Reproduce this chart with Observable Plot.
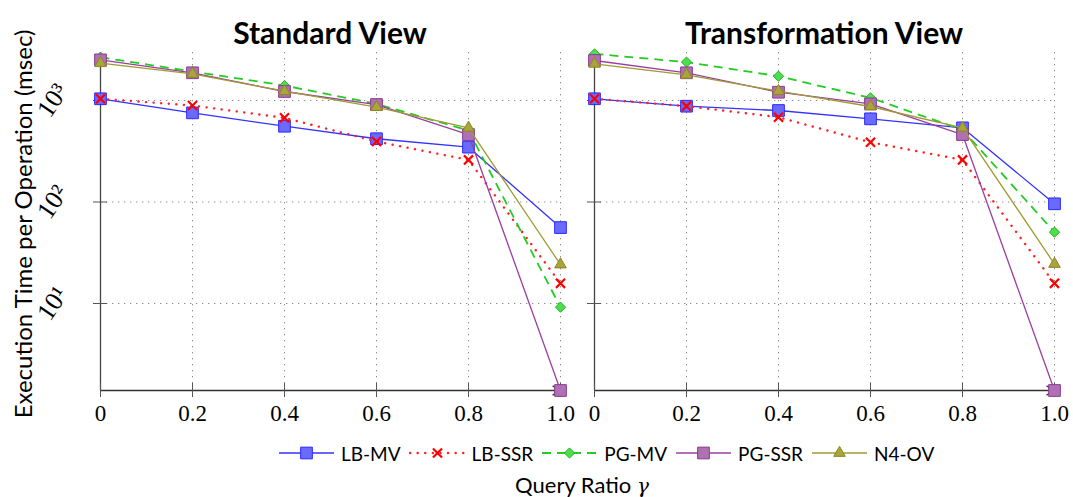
<!DOCTYPE html>
<html>
<head>
<meta charset="utf-8">
<script src="https://cdn.jsdelivr.net/npm/d3@7"></script>
<script src="https://cdn.jsdelivr.net/npm/@observablehq/plot@0.6"></script>
<style>
  body { margin: 0; background: #fff; }
  #wrap { position: relative; width: 1073px; height: 497px; overflow: hidden; font-family: Lato, "Open Sans", sans-serif; color: #000; }
  .panel { position: absolute; top: 0; }
  .title { position: absolute; top: 14px; font-weight: bold; font-size: 30px; transform: translateX(-50%); white-space: nowrap; }
  #ylabel { position: absolute; left: 22px; top: 224px; font-size: 24px; white-space: nowrap; transform: translate(-50%, -50%) rotate(-90deg); }
  #xlabel { position: absolute; left: 582px; top: 484px; font-size: 22px; white-space: nowrap; transform: translate(-50%, -50%); }
  #legend { position: absolute; left: 278px; top: 441px; height: 24px; display: flex; align-items: center; font-size: 19px; white-space: nowrap; }
  .item { display: flex; align-items: center; margin-right: 8px; }
  .item svg { margin-right: 6px; }
</style>
</head>
<body>
<div id="wrap">
  <div id="left" class="panel" style="left:0px"></div>
  <div id="right" class="panel" style="left:494px"></div>
  <div class="title" style="left:330px">Standard View</div>
  <div class="title" style="left:824px">Transformation View</div>
  <div id="ylabel">Execution Time per Operation (msec)</div>
  <div id="xlabel">Query Ratio <i style="font-family:'DejaVu Serif',serif;font-size:20px">γ</i></div>
  <div id="legend"></div>
</div>
<script>
// ---- data ----
const ratios = [0, 0.2, 0.4, 0.6, 0.8, 1.0];
const xTickLabels = ["0", "0.2", "0.4", "0.6", "0.8", "1.0"];
const seriesNames = ["LB-MV", "LB-SSR", "PG-MV", "PG-SSR", "N4-OV"];
const yTicks = [10, 100, 1000];
const yTickLabels = ["10¹", "10²", "10³"];
const yDomain = [1.39, 2972];

// Standard View
const standardLBMV  = [1040, 756, 558, 420, 347, 56];
const standardLBSSR = [1040, 893, 675, 395, 260, 15.8];
const standardPGMV  = [2670, 1930, 1405, 927, 506, 9.2];
const standardPGSSR = [2515, 1875, 1227, 913, 462, 1.39];
const standardN4OV  = [2330, 1832, 1235, 859, 538, 24.2];

// Transformation View
const transformLBMV  = [1040, 879, 797, 660, 538, 96];
const transformLBSSR = [1040, 880, 685, 388, 260, 15.8];
const transformPGMV  = [2880, 2390, 1735, 1063, 514, 50.5];
const transformPGSSR = [2478, 1875, 1207, 927, 462, 1.39];
const transformN4OV  = [2297, 1790, 1235, 873, 538, 24.5];

// ---- styles ----
const styles = [
  {stroke: "#3333ff", dash: null, cap: "butt", width: 1.3, symbol: "square", r: 6.6, fill: "#6a6aff", mstroke: "#2a2aff", mwidth: 1},
  {stroke: "#ff2020", dash: "0.1,7.5", cap: "round", width: 2.4, symbol: "times", r: 4.2, fill: "none", mstroke: "#ff0000", mwidth: 2.2},
  {stroke: "#22cc22", dash: "9,6", cap: "butt", width: 1.8, symbol: "diamond2", r: 4.6, fill: "#4ddd4d", mstroke: "#1fb51f", mwidth: 1},
  {stroke: "#9a3f9f", dash: null, cap: "butt", width: 1.3, symbol: "square", r: 6.6, fill: "#b070b4", mstroke: "#8a3a8e", mwidth: 1},
  {stroke: "#a09a34", dash: null, cap: "butt", width: 1.3, symbol: "triangle", r: 4.3, fill: "#aaa43c", mstroke: "#8c8620", mwidth: 1}
];

const serif = "'Liberation Serif', 'DejaVu Serif', serif";

function panel(seriesValues, showYLabels) {
  const marks = [
    Plot.gridY(yTicks, {stroke: "#8a8a8a", strokeOpacity: 1, strokeDasharray: "1.3,4.7"}),
    Plot.gridX(ratios.slice(1), {stroke: "#8a8a8a", strokeOpacity: 1, strokeDasharray: "1.3,4.7"}),
    Plot.ruleX([0], {stroke: "#444", strokeWidth: 1.3}),
    Plot.arrow([ratios], {
      x1: d => d[0], x2: d => d[d.length - 1],
      y1: () => yDomain[0], y2: () => yDomain[0],
      stroke: "#333", strokeWidth: 1.3, headLength: 10
    }),
    Plot.axisX(ratios, {tickSize: 14, dy: -7, tickFormat: () => "", stroke: "#555", label: null}),
    Plot.axisY(yTicks, {tickSize: 14, dx: 7, tickFormat: () => "", stroke: "#555", label: null}),
    Plot.axisX(ratios, {
      tickSize: 0, tickPadding: 14, label: null,
      tickFormat: d => xTickLabels[ratios.indexOf(d)],
      fontSize: 23, fontFamily: serif, fill: "#000"
    })
  ];
  if (showYLabels) {
    marks.push(Plot.text(yTicks, {
      y: d => d, frameAnchor: "left", dx: -48,
      text: d => yTickLabels[yTicks.indexOf(d)],
      rotate: -56, textAnchor: "middle", fontSize: 26, fontFamily: serif, fill: "#000"
    }));
  }
  seriesValues.forEach((vals, i) => {
    const s = styles[i];
    const data = ratios.map((r, j) => ({x: r, y: vals[j], series: seriesNames[i]}));
    marks.push(Plot.line(data, {
      x: "x", y: "y", stroke: s.stroke, strokeWidth: s.width,
      strokeDasharray: s.dash, strokeLinecap: s.cap
    }));
    marks.push(Plot.dot(data, {
      x: "x", y: "y", symbol: s.symbol, r: s.r,
      fill: s.fill, stroke: s.mstroke, strokeWidth: s.mwidth
    }));
  });
  return Plot.plot({
    width: 575, height: 430,
    marginLeft: 100, marginRight: 15, marginTop: 52, marginBottom: 40,
    x: {domain: [0, 1]},
    y: {type: "log", domain: yDomain},
    style: {background: "transparent", overflow: "visible"},
    marks
  });
}

document.getElementById("left").append(panel(
  [standardLBMV, standardLBSSR, standardPGMV, standardPGSSR, standardN4OV], true));
document.getElementById("right").append(panel(
  [transformLBMV, transformLBSSR, transformPGMV, transformPGSSR, transformN4OV], false));

// ---- legend ----
const legend = d3.select("#legend");
const symMap = {square: d3.symbolSquare, times: d3.symbolTimes, diamond2: d3.symbolDiamond2, triangle: d3.symbolTriangle};
seriesNames.forEach((name, i) => {
  const s = styles[i];
  const item = legend.append("div").attr("class", "item");
  const svg = item.append("svg").attr("width", 57).attr("height", 20);
  svg.append("line").attr("x1", 1).attr("x2", 56).attr("y1", 10).attr("y2", 10)
    .attr("stroke", s.stroke).attr("stroke-width", s.width)
    .attr("stroke-dasharray", s.dash).attr("stroke-linecap", s.cap);
  svg.append("path").attr("transform", "translate(28.5,10)")
    .attr("d", d3.symbol(symMap[s.symbol], Math.PI * s.r * s.r)())
    .attr("fill", s.fill).attr("stroke", s.mstroke).attr("stroke-width", s.mwidth);
  item.append("span").text(name);
});
</script>
</body>
</html>
